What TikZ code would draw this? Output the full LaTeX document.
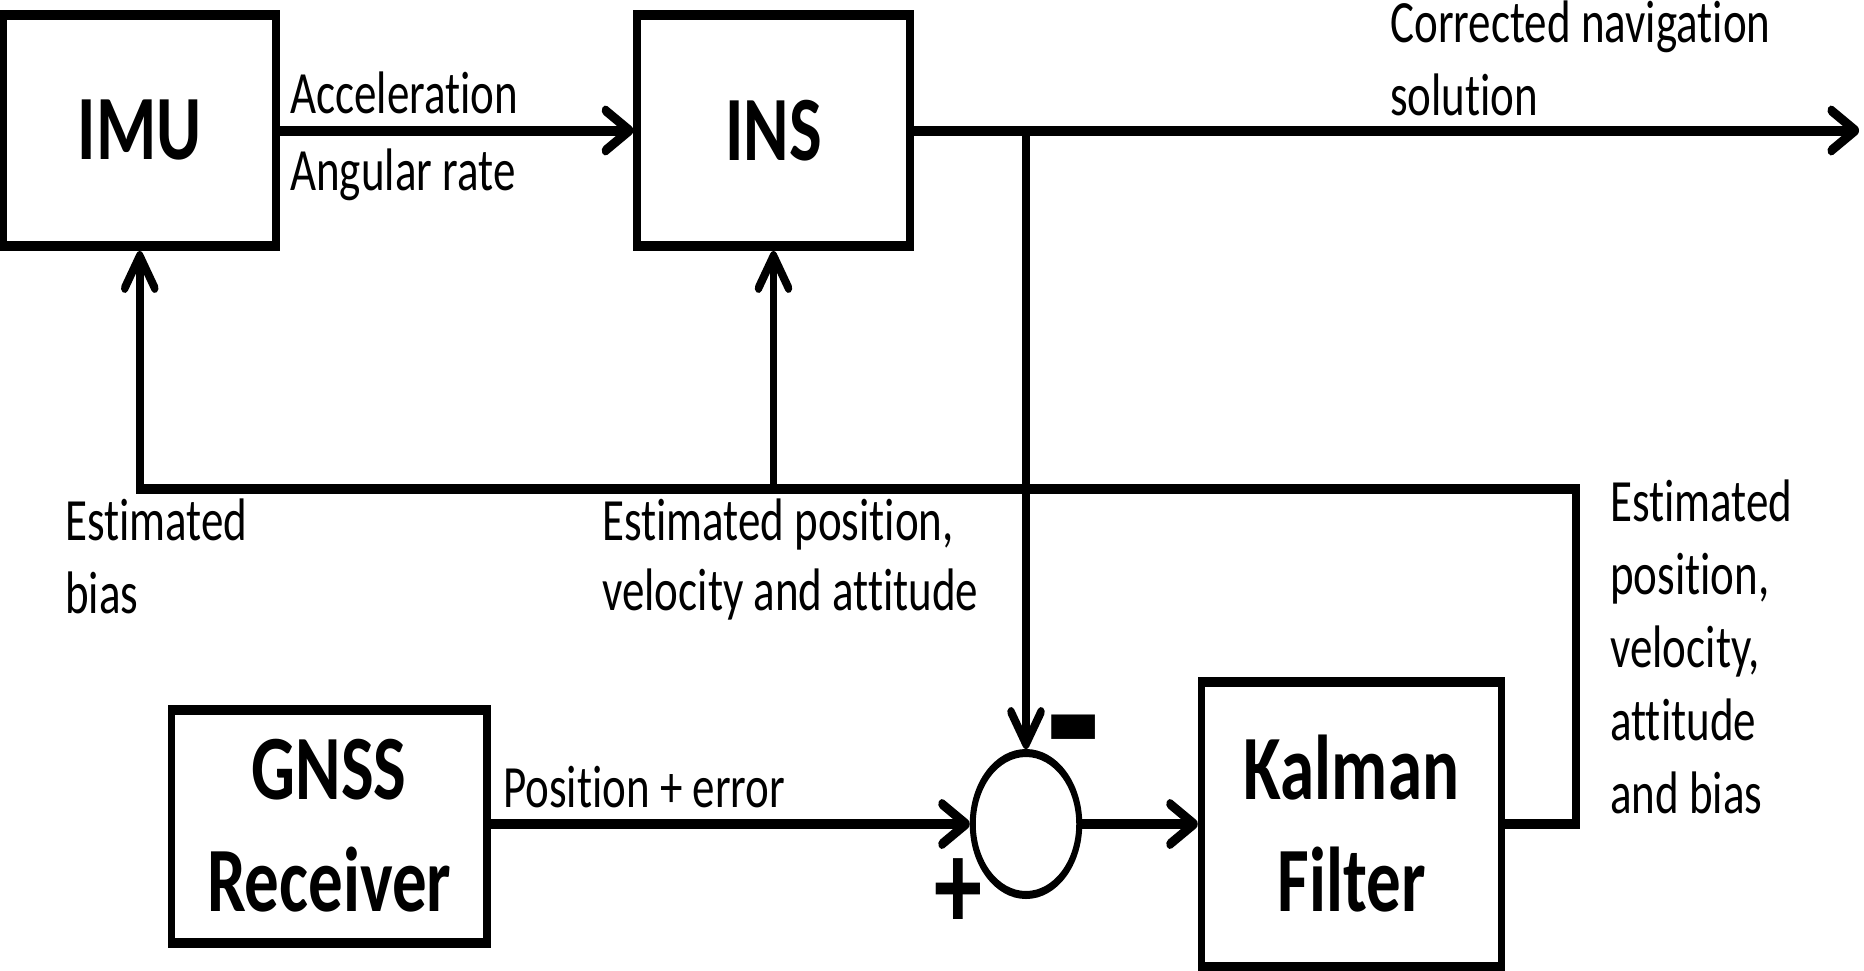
\documentclass[tikz,border=0pt]{standalone}
\usepackage{fontspec}
\setmainfont{Carlito}[Ligatures=NoCommon]
\usetikzlibrary{arrows.meta}
\newdimen\ux \ux=0.666667pt
\newdimen\uy \uy=0.5pt
\begin{document}
\begin{tikzpicture}[x=0.5pt,y=-0.5pt]
\useasboundingbox (0,0) rectangle (1864,970);
\begin{scope}[x=\ux, y=-\uy, transform canvas={xscale=0.75},
  blk/.style={draw, line width=5pt, rectangle, inner sep=0pt, align=center,
    font=\bfseries\fontsize{46}{56}\selectfont},
  lbl/.style={inner sep=0pt, anchor=base west, align=left,
    font=\fontsize{30}{36.5}\selectfont},
  sign/.style={inner sep=0pt, font=\bfseries\fontsize{64}{64}\selectfont},
  wire/.style={line width=5pt, line join=miter},
  arr/.style={wire, -{Straight Barb[length=16pt,width=20pt,line cap=round,line join=round]}}]

% blocks
\node[blk, minimum width=272.5*\ux, minimum height=231*\uy] (imu) at (139.75,130.5) {IMU};
\node[blk, minimum width=273*\ux, minimum height=231*\uy] (ins) at (773.5,130.5) {INS};
\node[blk, minimum width=315.5*\ux, minimum height=233*\uy] (gnss) at (329.25,826) {GNSS\\Receiver};
\node[blk, minimum width=300*\ux, minimum height=285*\uy] (kal) at (1351.5,824) {Kalman\\Filter};
\node[draw, circle, line width=4pt, minimum size=71pt, inner sep=0pt] (sum) at (1026,824) {};

% signs at the summing junction
\node[sign, font=\bfseries\fontsize{118}{118}\selectfont] (minus) at (1074,755) {-};
\node[sign] (plus) at (958,894) {+};

% helper points
\coordinate (outEnd) at (1859,130.5);
\coordinate (split) at (sum.north |- ins.east);
\coordinate (fbR) at (1576,489);

% forward path
\draw[arr] (imu.east) -- (ins.west);
\draw[arr] (ins.east) -- (outEnd);
\draw[arr] (split) -- (sum.north);
\draw[arr] (gnss.east |- sum.west) -- (sum.west);
\draw[arr] (sum.east) -- (kal.west);

% feedback path
\draw[arr] (kal.east) -| (fbR) -| (imu.south);
\draw[arr] (ins.south |- fbR) -- (ins.south);

% labels (anchored at the baseline of their last line)
\node[lbl] (acc) at (290,113) {Acceleration};
\node[lbl] (ang) at (290,190) {Angular rate};
\node[lbl] (corr) at (1390,115) {Corrected navigation\\solution};
\node[lbl] (bias) at (65,613) {Estimated\\bias};
\node[lbl, font=\fontsize{30}{35}\selectfont] (pva) at (602,610) {Estimated position,\\velocity and attitude};
\node[lbl] (pvab) at (1610,813) {Estimated\\position,\\velocity,\\attitude\\and bias};
\node[lbl] (poserr) at (503,807) {Position + error};
\end{scope}
\end{tikzpicture}
\end{document}
